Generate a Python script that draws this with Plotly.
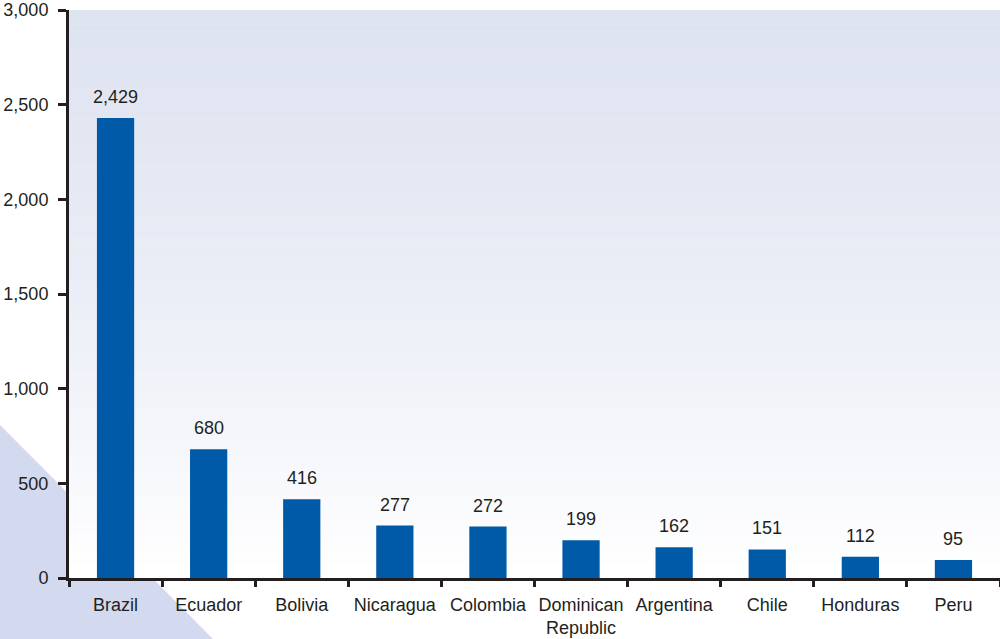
import plotly.graph_objects as go

# data
countries = ["Brazil", "Ecuador", "Bolivia", "Nicaragua", "Colombia",
             "Dominican<br>Republic", "Argentina", "Chile", "Honduras", "Peru"]
values = [2429, 680, 416, 277, 272, 199, 162, 151, 112, 95]
y_ticks = [0, 500, 1000, 1500, 2000, 2500, 3000]

bar_color = "#005aa8"
font = dict(family="Liberation Sans, Arial, sans-serif", size=18, color="#231f20")

W, H = 1000, 639
margin = dict(l=69, r=0, t=10, b=61)
pw = W - margin["l"] - margin["r"]
ph = H - margin["t"] - margin["b"]


def px_to_paper(x, y):
    return (x - margin["l"]) / pw, (H - margin["b"] - y) / ph


fig = go.Figure()
fig.add_trace(go.Bar(x=countries, y=values, marker=dict(color=bar_color, line_width=0),
                     width=0.4, hoverinfo="x+y"))

shapes = []
# lavender triangle behind the bottom-left corner
(ax, ay), (bx, by), (cx, cy) = px_to_paper(0, 425), px_to_paper(0, H), px_to_paper(213, H)
shapes.append(dict(type="path", xref="paper", yref="paper", layer="below",
                   path=f"M {ax} {ay} L {bx} {by} L {cx} {cy} Z",
                   fillcolor="#d3d9ee", line_width=0))

# vertical gradient for the plot area
top = (223, 228, 241)
n = 80
for i in range(n):
    t = i / (n - 1)
    k = t ** 1.4
    c = tuple(round(top[j] + (255 - top[j]) * k) for j in range(3))
    y1 = 1 - i / n
    y0 = 1 - (i + 1) / n
    shapes.append(dict(type="rect", xref="paper", yref="paper", layer="below",
                       x0=0, x1=1, y0=y0 - 0.001, y1=y1,
                       fillcolor=f"rgb{c}", line_width=0))

annotations = [dict(x=c, y=v, text=f"{v:,}", showarrow=False, xref="x", yref="y",
                    yanchor="middle", yshift=21, font=font)
               for c, v in zip(countries, values)]

fig.update_layout(
    width=W, height=H, margin=margin,
    paper_bgcolor="white", plot_bgcolor="rgba(0,0,0,0)",
    font=font, showlegend=False,
    shapes=shapes, annotations=annotations,
    xaxis=dict(type="category", showline=True, linecolor="#231f20", linewidth=3,
               ticks="outside", tickson="boundaries", ticklen=6, tickwidth=3,
               tickcolor="#231f20", showgrid=False, range=[-0.5, 9.5],
               tickfont=font, tickangle=0, automargin=False, ticklabelstandoff=8),
    yaxis=dict(range=[0, 3000], tickvals=y_ticks, tickformat=",", showline=True,
               linecolor="#231f20", linewidth=3, ticks="outside", ticklen=8,
               tickwidth=3, tickcolor="#231f20", showgrid=False, zeroline=False,
               tickfont=font, automargin=False, ticklabelstandoff=6),
)

# drop the default 8px body margin so the figure fills the window exactly
fig.write_html("out.html", config={"displayModeBar": False},
               post_script="document.body.style.margin='0';")
